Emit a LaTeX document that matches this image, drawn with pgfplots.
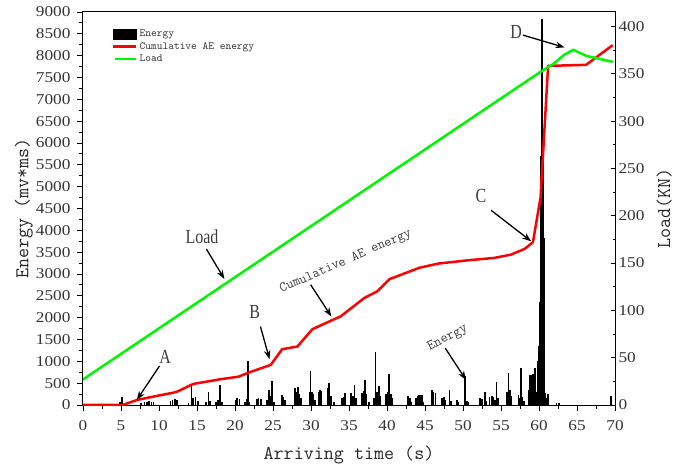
\documentclass[border=0pt]{standalone}
\usepackage{pgfplots}
\pgfplotsset{compat=1.18}
\usepackage{fontspec}
\setmainfont{Liberation Serif}
\newfontfamily\tickfont{Liberation Serif}[FakeStretch=1.15]
\newfontfamily\annfont{Liberation Serif}[FakeStretch=0.8]
\usetikzlibrary{arrows.meta}
\definecolor{cumred}{RGB}{255,0,0}
\definecolor{loadgreen}{RGB}{0,245,0}
\definecolor{txtgray}{RGB}{60,60,60}

\pgfplotsset{
  common/.style={
    width=532pt, height=393pt, scale only axis,
    xmin=0, xmax=70,
    axis line style={line width=1pt},
    every tick/.style={black, line width=0.9pt},
    major tick length=6pt, minor tick length=3.5pt,
    tick label style={font=\tickfont\fontsize{15}{15}\selectfont, text=black!80},
    label style={font=\ttfamily\fontsize{19.5}{19.5}\selectfont, text=black!85},
    /pgf/number format/assume math mode=true,
    /pgf/number format/1000 sep={},
    scaled ticks=false,
  },
}
\tikzset{arr/.style={-{Stealth[length=9pt,width=6.5pt]}, line width=1.3pt, black}}

\begin{document}
\begin{tikzpicture}
\begin{axis}[
  common, name=ax1,
  ymin=0, ymax=9000,
  xtick={0,5,...,70}, ytick={0,500,...,9000},
  minor x tick num=1, minor y tick num=1,
  xtick pos=bottom, ytick pos=left,
  tick align=outside,
  xticklabel style={yshift=-6pt},
  yticklabel style={xshift=-3pt},
  xlabel={Arriving time (s)},
  ylabel={Energy (mv*ms)},
  xlabel style={at={(axis description cs:0.5,0)}, anchor=base, yshift=-54pt},
  ylabel style={at={(axis description cs:-0.1028,0.5)}, anchor=base},
]
% AE energy per hit
\addplot[ycomb, black, line width=1.6pt] coordinates {
(4.9,80) (5.1,190) (7.6,40) (8.1,70) (8.4,80) (8.7,85) (9.0,75) (9.3,60)
(11.5,90) (11.8,110) (12.1,130) (12.4,120) (13.9,40) (14.3,436) (14.5,150)
(14.8,190) (15.1,90) (16.2,80) (16.5,306) (16.7,90) (17.5,60) (17.8,120)
(18.05,460) (18.3,80) (20.1,120) (20.3,150) (20.6,140) (21.3,80) (21.5,140)
(21.7,1010) (21.9,60) (22.9,140) (23.1,150) (23.4,140) (24.2,120) (24.45,345)
(24.7,200) (24.9,550) (25.1,80) (26.2,230) (26.4,180) (26.6,120) (27.9,380)
(28.1,300) (28.3,405) (28.5,260) (28.7,150) (29.8,300) (29.95,780) (30.1,300)
(30.3,260) (30.5,120) (31.0,300) (31.2,345) (31.4,330) (32.2,380) (32.4,497)
(32.6,200) (33.0,80) (34.1,150) (34.3,190) (34.5,270) (35.3,270) (35.5,200)
(35.7,460) (35.9,150) (36.7,270) (36.9,330) (37.1,575) (37.3,250) (37.6,80)
(38.3,150) (38.5,1225) (38.7,300) (38.95,435) (39.1,200) (39.9,260) (40.1,300)
(40.3,710) (40.5,250) (40.7,150) (42.8,207) (43.0,150) (43.2,80) (43.8,150)
(44.0,200) (44.2,230) (44.4,240) (44.6,230) (44.8,80) (45.9,345) (46.1,300)
(46.4,280) (47.2,150) (47.5,175) (47.7,120) (48.2,345) (48.4,100) (49.2,115)
(49.4,60) (50.3,665) (50.5,100) (50.7,60) (52.2,150) (52.5,130) (52.9,305)
(53.1,100) (53.5,190) (53.8,200) (54.0,180) (54.2,120) (54.4,535) (54.6,150)
(55.8,300) (56.0,740) (56.2,345) (56.4,200) (57.3,230) (57.5,150) (57.65,840)
(57.85,190) (58.0,100) (58.6,350) (58.8,690) (59.0,680) (59.2,700) (59.5,855)
(59.7,300) (59.85,1000) (60.0,1340) (60.1,2370) (60.25,5700) (60.4,8838)
(60.5,5700) (60.65,3830) (60.8,270) (60.9,150) (61.2,250) (62.3,40) (62.6,40)
(69.5,205)
};
% cumulative AE energy
\addplot[cumred, line width=2.5pt, line join=round] coordinates {
(0,0) (5.3,5) (7.1,115) (8.8,176) (11.9,283) (12.4,306) (14.5,482) (18.1,590)
(20.5,650) (21.8,742) (24.7,918) (26.2,1278) (28.2,1339) (30.2,1738)
(32.4,1912) (33.9,2030) (35.7,2272) (37.0,2449) (38.7,2601) (40.3,2880)
(44.3,3145) (46.8,3240) (50.6,3313) (54.1,3368) (56.3,3443) (58.1,3574)
(59.2,3726) (60.2,4750) (61.2,7767) (64.7,7782) (66.2,7790) (69.7,8242)
};
% annotations
\node[font=\annfont\fontsize{20}{20}\selectfont, text=txtgray] at (axis cs:15.66,3850) {Load};
\draw[arr] (axis cs:16.23,3574) -- (axis cs:18.6,2886);
\node[font=\annfont\fontsize{20}{20}\selectfont, text=txtgray] at (axis cs:10.82,1109) {A};
\draw[arr] (axis cs:10.07,895) -- (axis cs:7.08,115);
\node[font=\annfont\fontsize{20}{20}\selectfont, text=txtgray] at (axis cs:22.6,2119) {B};
\draw[arr] (axis cs:23.35,1797) -- (axis cs:24.54,1049);
\node[font=\ttfamily\fontsize{13.8}{13.8}\selectfont, text=txtgray, rotate=23.7] at (axis cs:34.56,3283) {Cumulative AE energy};
\draw[arr] (axis cs:29.95,2755) -- (axis cs:32.68,2027);
\node[font=\annfont\fontsize{20}{20}\selectfont, text=txtgray] at (axis cs:52.37,4798) {C};
\draw[arr] (axis cs:53.69,4460) -- (axis cs:58.97,3749);
\node[font=\annfont\fontsize{20}{20}\selectfont, text=txtgray] at (axis cs:56.99,8547) {D};
\draw[arr] (axis cs:57.88,8471) -- (axis cs:63.36,8189);
\node[font=\ttfamily\fontsize{14}{14}\selectfont, text=txtgray, rotate=28] at (axis cs:47.98,1530) {Energy};
\draw[arr] (axis cs:47.66,1302) -- (axis cs:50.40,574);
\end{axis}

\begin{axis}[
  common, name=ax2,
  axis x line=none, axis y line*=right,
  ymin=0, ymax=415.3,
  ytick={0,50,...,400}, minor y tick num=1,
  ytick align=inside, major tick length=4.5pt, minor tick length=2.5pt,
  ylabel={Load(KN)},
  ylabel style={at={(axis description cs:1.1034,0.5)}, anchor=base},
  legend style={at={(0.0545,0.959)}, anchor=north west, draw=none, fill=none,
    font=\ttfamily\fontsize{10.9}{11}\selectfont, text=black!80,
    row sep=0pt, inner sep=0pt, cells={anchor=west}},
]
\addlegendimage{legend image code/.code={\fill[black] (0pt,-5pt) rectangle (23pt,5pt);}}
\addlegendentry{Energy}
\addlegendimage{legend image code/.code={\draw[cumred, line width=2.5pt] (0pt,0pt) -- (23pt,0pt);}}
\addlegendentry{Cumulative AE energy}
% load
\addplot[loadgreen, line width=2.5pt, line join=round,
  legend image code/.code={\draw[loadgreen, line width=2.5pt] (2pt,0pt) -- (23pt,0pt);}]
  coordinates {
(0,27) (10,81) (20,135) (30,189) (40,243) (50,297) (60,351) (62,361)
(63.3,370) (64.5,375.3) (66.2,369) (69.7,362.6)
};
\addlegendentry{Load}
\end{axis}
\pgfresetboundingbox
\path[use as bounding box] ([shift={(-83pt,-63pt)}]ax1.south west) rectangle ([shift={(59pt,12pt)}]ax1.north east);
\end{tikzpicture}
\end{document}
